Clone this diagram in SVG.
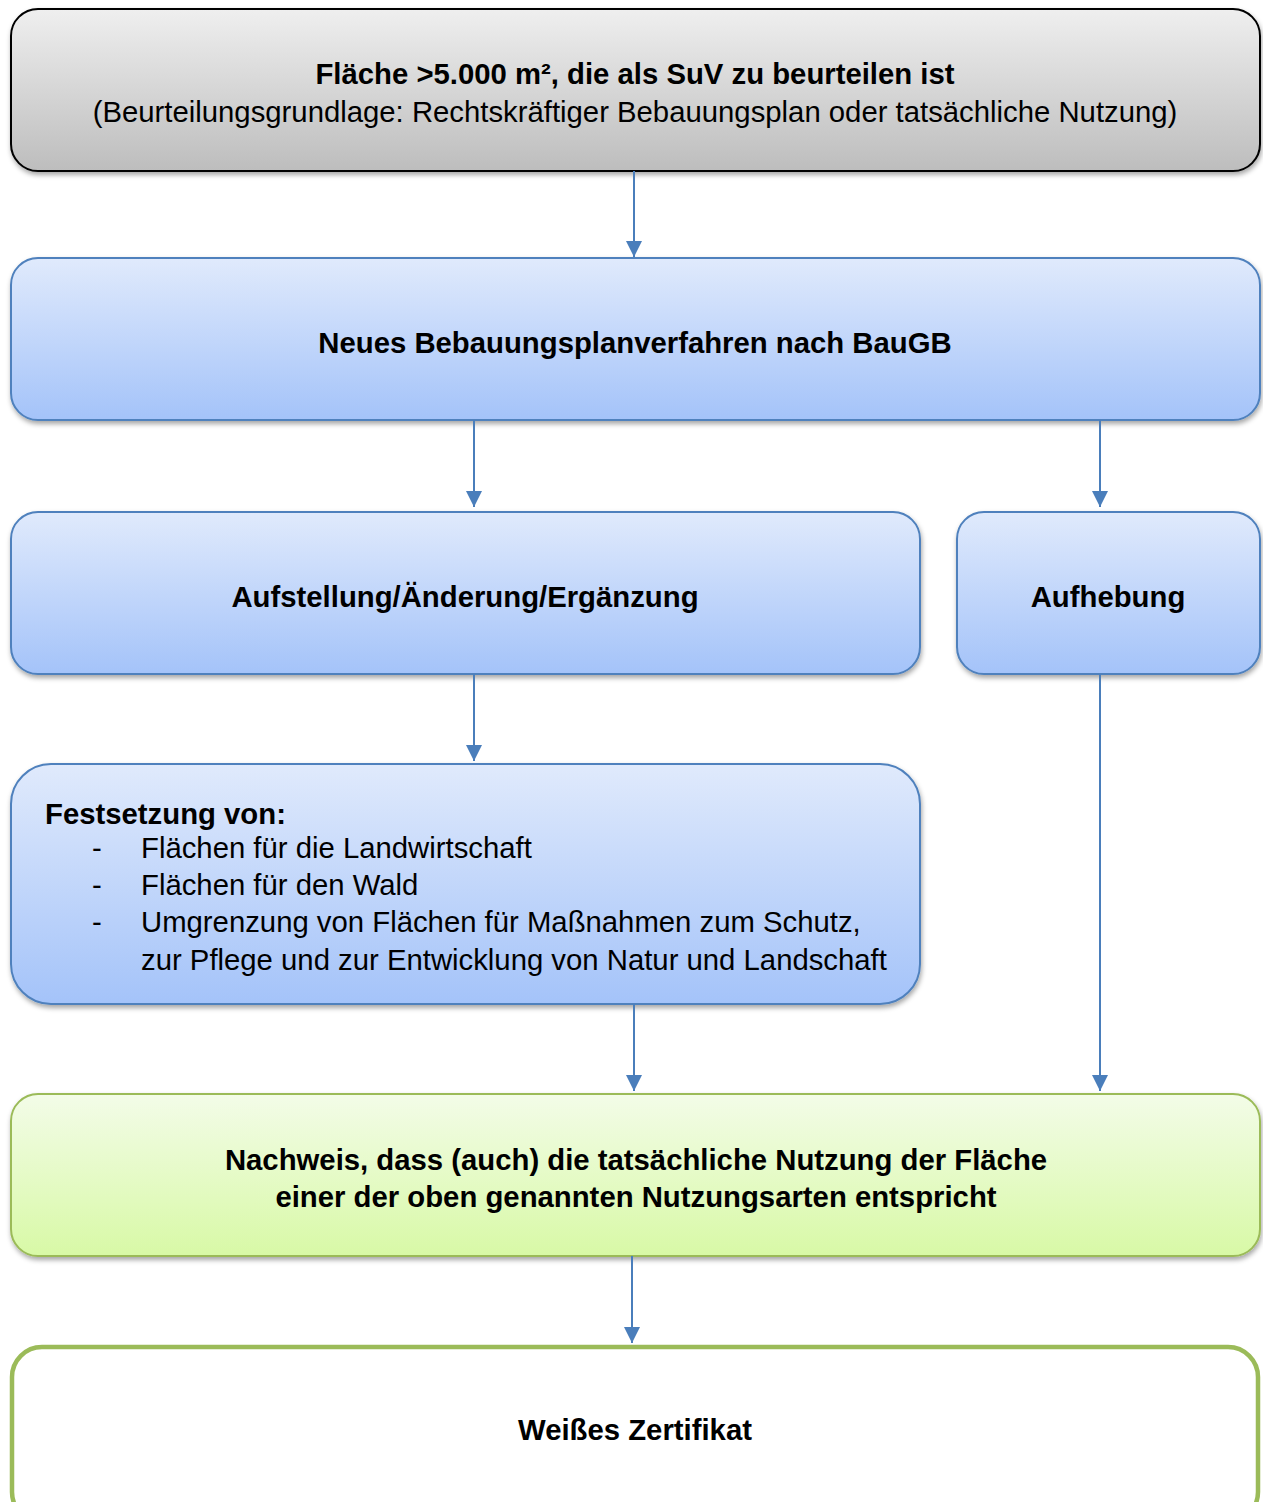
<svg xmlns="http://www.w3.org/2000/svg" width="1263" height="1502" viewBox="0 0 1263 1502">
<defs>
<linearGradient id="gGray" x1="0" y1="0" x2="0" y2="1"><stop offset="0" stop-color="#efefef"/><stop offset="1" stop-color="#bdbdbd"/></linearGradient>
<linearGradient id="gBlue" x1="0" y1="0" x2="0" y2="1"><stop offset="0" stop-color="#e0eafc"/><stop offset="1" stop-color="#a4c3f9"/></linearGradient>
<linearGradient id="gGreen" x1="0" y1="0" x2="0" y2="1"><stop offset="0" stop-color="#f3fce8"/><stop offset="1" stop-color="#d8f9a6"/></linearGradient>
<filter id="sh" x="-5%" y="-10%" width="110%" height="130%"><feDropShadow dx="1" dy="3" stdDeviation="2.5" flood-color="#000" flood-opacity="0.35"/></filter>
<marker id="ah" viewBox="0 0 10 10" refX="10" refY="5" markerWidth="8" markerHeight="8" markerUnits="strokeWidth" orient="auto"><path d="M0,0 L10,5 L0,10 Z" fill="#4a7ebb"/></marker>
</defs>
<style>
text{font-family:"Liberation Sans",Arial,sans-serif;font-size:29.3px;fill:#000}
.b{font-weight:bold}
.c{text-anchor:middle}
.gray{fill:url(#gGray);stroke:#000;stroke-width:2;filter:url(#sh)}
.blue{fill:url(#gBlue);stroke:#4f81bd;stroke-width:2;filter:url(#sh)}
.green{fill:url(#gGreen);stroke:#9bbb59;stroke-width:2;filter:url(#sh)}
.white{fill:#fff;stroke:#9bbb59;stroke-width:4.5}
.con line{stroke:#4a7ebb;stroke-width:2;marker-end:url(#ah)}
</style>
<g id="n1"><rect class="gray" x="11" y="9" width="1249" height="162" rx="27"/>
<text class="b c" x="635" y="84">Fläche &gt;5.000 m², die als SuV zu beurteilen ist</text>
<text class="c" x="635" y="122">(Beurteilungsgrundlage: Rechtskräftiger Bebauungsplan oder tatsächliche Nutzung)</text></g>
<g id="n2"><rect class="blue" x="11" y="258" width="1249" height="162" rx="27"/>
<text class="b c" x="635" y="353">Neues Bebauungsplanverfahren nach BauGB</text></g>
<g id="n3"><rect class="blue" x="11" y="512" width="909" height="162" rx="27"/>
<text class="b c" x="465" y="607">Aufstellung/Änderung/Ergänzung</text></g>
<g id="n4"><rect class="blue" x="957" y="512" width="303" height="162" rx="27"/>
<text class="b c" x="1108" y="607">Aufhebung</text></g>
<g id="n5"><rect class="blue" x="11" y="764" width="909" height="240" rx="40"/>
<text class="b" x="45" y="824">Festsetzung von:</text>
<text x="92" y="858">-</text><text x="141" y="858">Flächen für die Landwirtschaft</text>
<text x="92" y="895">-</text><text x="141" y="895">Flächen für den Wald</text>
<text x="92" y="932">-</text><text x="141" y="932">Umgrenzung von Flächen für Maßnahmen zum Schutz,</text>
<text x="141" y="970">zur Pflege und zur Entwicklung von Natur und Landschaft</text></g>
<g id="n6"><rect class="green" x="11" y="1094" width="1249" height="162" rx="27"/>
<text class="b c" x="636" y="1170">Nachweis, dass (auch) die tatsächliche Nutzung der Fläche</text>
<text class="b c" x="636" y="1207">einer der oben genannten Nutzungsarten entspricht</text></g>
<g id="n7"><rect class="white" x="12" y="1347" width="1246" height="175" rx="30"/>
<text class="b c" x="635" y="1440">Weißes Zertifikat</text></g>
<g class="con" id="connectors">
<line x1="634" y1="171" x2="634" y2="257"/>
<line x1="474" y1="420" x2="474" y2="507"/>
<line x1="1100" y1="420" x2="1100" y2="507"/>
<line x1="474" y1="674" x2="474" y2="761"/>
<line x1="634" y1="1004" x2="634" y2="1091"/>
<line x1="1100" y1="674" x2="1100" y2="1091"/>
<line x1="632" y1="1256" x2="632" y2="1343"/>
</g>
</svg>
